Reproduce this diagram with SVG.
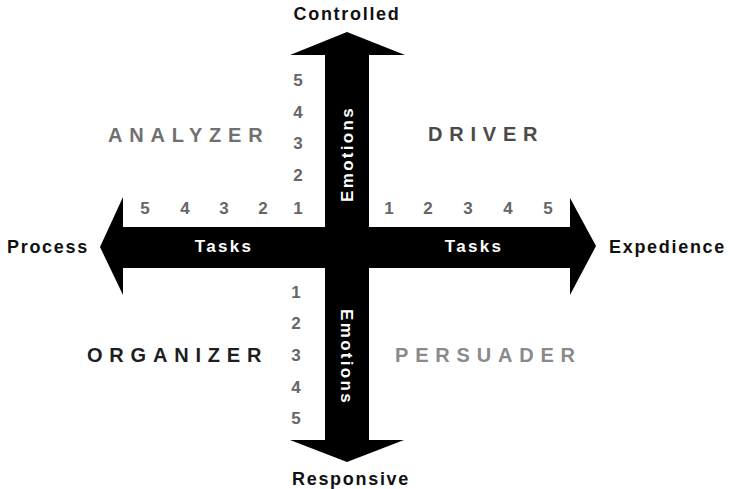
<svg xmlns="http://www.w3.org/2000/svg" width="730" height="489" viewBox="0 0 730 489">
  <style>
    .axis { fill: #000; }
    .end { font-family: "Liberation Sans", Arial, sans-serif; font-weight: bold; font-size: 18px; letter-spacing: 1.7px; fill: #111; }
    .inner { font-family: "Liberation Sans", Arial, sans-serif; font-weight: bold; font-size: 17px; letter-spacing: 2.3px; fill: #fff; text-anchor: middle; }
    .num { font-family: "Liberation Sans", Arial, sans-serif; font-weight: bold; font-size: 17px; fill: #666; text-anchor: middle; }
    .type { font-family: "Liberation Sans", Arial, sans-serif; font-weight: bold; font-size: 20px; letter-spacing: 6.8px; }
  </style>
  <rect width="730" height="489" fill="#fff"/>

  <!-- the two crossing double-headed arrows -->
  <g id="connectors">
    <polygon id="axis-vertical" class="axis" points="347,32 405,55 369,55 369,440 404,440 347,462 290,440 325,440 325,55 290,55"/>
    <polygon id="axis-horizontal" class="axis" points="100,247 123,197 123,227 570,227 570,198 596,246 570,295 570,268 123,268 123,295"/>
  </g>

  <!-- axis end labels -->
  <g id="end-controlled"><text class="end" x="347" y="20" text-anchor="middle">Controlled</text></g>
  <g id="end-responsive"><text class="end" x="351" y="485" text-anchor="middle">Responsive</text></g>
  <g id="end-process"><text class="end" x="7" y="253">Process</text></g>
  <g id="end-expedience"><text class="end" x="609" y="253">Expedience</text></g>

  <!-- labels inside the arrow shafts -->
  <g id="shaft-labels">
    <text class="inner" transform="translate(353,154) rotate(-90)">Emotions</text>
    <text class="inner" transform="translate(341,357) rotate(90)">Emotions</text>
    <text class="inner" x="224" y="252">Tasks</text>
    <text class="inner" x="474" y="252">Tasks</text>
  </g>

  <!-- scale numbers -->
  <g id="scale-up">
    <text class="num" x="298" y="86">5</text>
    <text class="num" x="298" y="118">4</text>
    <text class="num" x="298" y="149">3</text>
    <text class="num" x="298" y="181">2</text>
    <text class="num" x="298" y="214">1</text>
  </g>
  <g id="scale-left">
    <text class="num" x="145" y="214">5</text>
    <text class="num" x="185" y="214">4</text>
    <text class="num" x="224" y="214">3</text>
    <text class="num" x="263" y="214">2</text>
  </g>
  <g id="scale-right">
    <text class="num" x="389" y="214">1</text>
    <text class="num" x="428" y="214">2</text>
    <text class="num" x="468" y="214">3</text>
    <text class="num" x="508" y="214">4</text>
    <text class="num" x="548" y="214">5</text>
  </g>
  <g id="scale-down">
    <text class="num" x="296" y="298">1</text>
    <text class="num" x="296" y="329">2</text>
    <text class="num" x="296" y="361">3</text>
    <text class="num" x="296" y="393">4</text>
    <text class="num" x="296" y="424">5</text>
  </g>

  <!-- quadrant names -->
  <g id="analyzer"><text class="type" x="108" y="142" fill="#707070">ANALYZER</text></g>
  <g id="driver"><text class="type" x="428" y="141" fill="#4a4a4a">DRIVER</text></g>
  <g id="organizer"><text class="type" x="87" y="362" fill="#1e1e1e">ORGANIZER</text></g>
  <g id="persuader"><text class="type" x="395" y="362" fill="#8a8a8a">PERSUADER</text></g>
</svg>
